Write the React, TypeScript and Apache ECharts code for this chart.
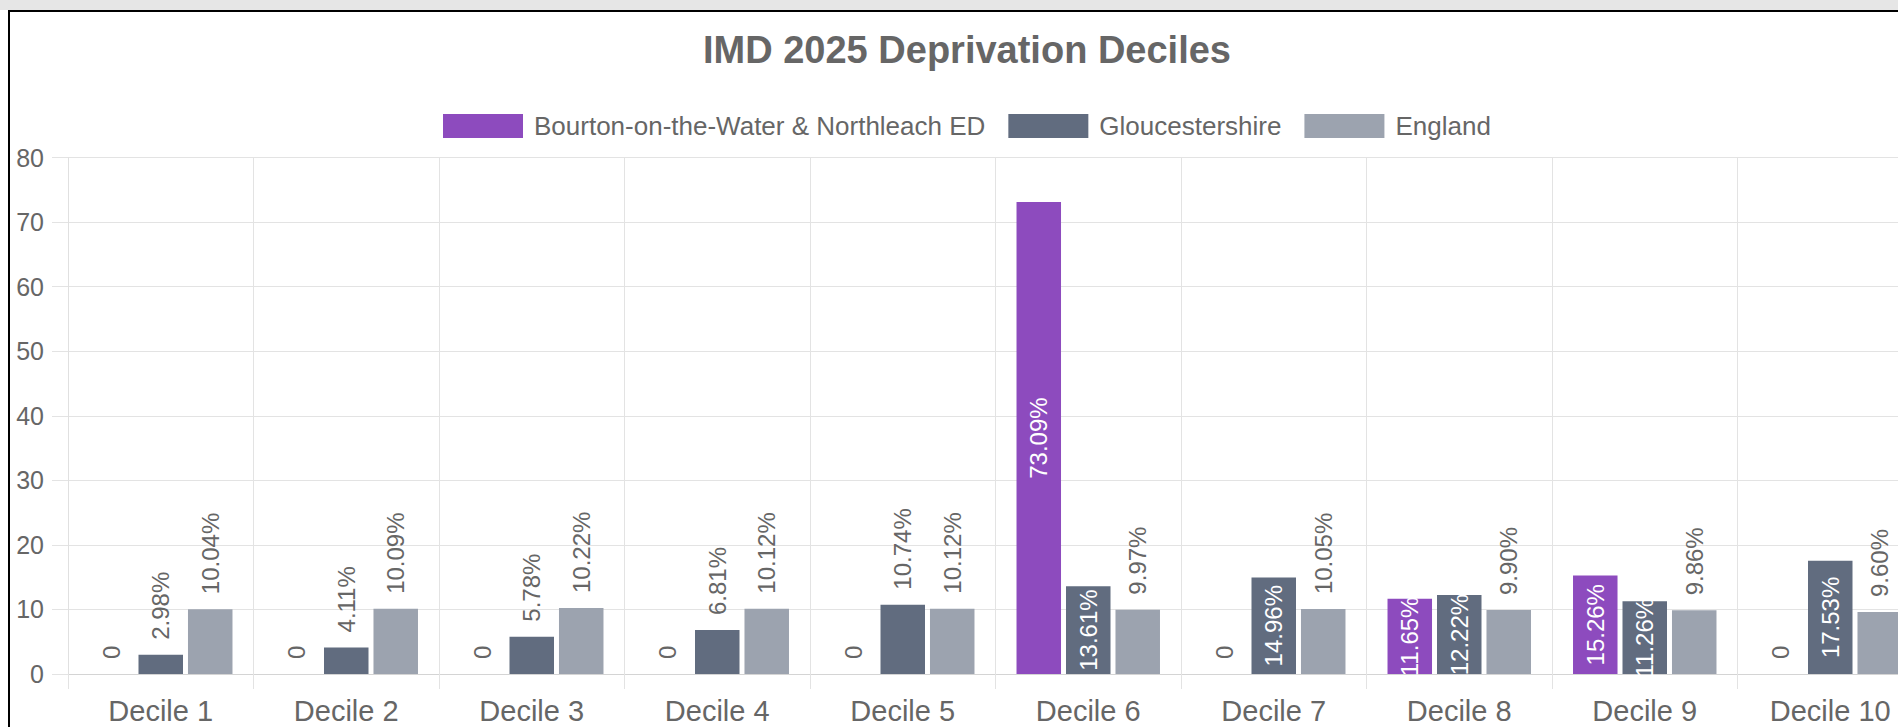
import React, { useEffect, useRef } from "react";
import * as echarts from "echarts";

const categories = [
  "Decile 1", "Decile 2", "Decile 3", "Decile 4", "Decile 5",
  "Decile 6", "Decile 7", "Decile 8", "Decile 9", "Decile 10",
];
const seriesNames = ["Bourton-on-the-Water & Northleach ED", "Gloucestershire", "England"];
const bourton = [0, 0, 0, 0, 0, 73.09, 0, 11.65, 15.26, 0];
const gloucestershire = [2.98, 4.11, 5.78, 6.81, 10.74, 13.61, 14.96, 12.22, 11.26, 17.53];
const england = [10.04, 10.09, 10.22, 10.12, 10.12, 9.97, 10.05, 9.9, 9.86, 9.6];
const yTicks = { min: 0, max: 80, interval: 10 };

const colors = ["#8D4BBE", "#616C7F", "#9CA3AF"];
const FONT = "'Liberation Sans', Arial, sans-serif";
const TXT = "#666666";

function toItems(vals: number[]) {
  return vals.map((v) => {
    const inside = v >= 11;
    return {
      value: v,
      label: inside
        ? { position: "inside", rotate: 90, align: "center", verticalAlign: "middle", color: "#ffffff" }
        : { position: "top", distance: 15, rotate: 90, align: "left", verticalAlign: "middle", color: TXT },
    };
  });
}

export default function App() {
  const ref = useRef<HTMLDivElement>(null);

  useEffect(() => {
    if (!ref.current) return;
    const chart = echarts.init(ref.current, undefined, { renderer: "svg" });
    const values = [bourton, gloucestershire, england];
    chart.setOption({
      animation: false,
      title: {
        text: "IMD 2025 Deprivation Deciles",
        left: 703,
        top: 31,
        padding: 0,
        textStyle: { fontFamily: FONT, fontSize: 38, fontWeight: "bold", color: TXT },
      },
      legend: {
        left: 443,
        top: 113,
        padding: 0,
        icon: "rect",
        itemWidth: 80,
        itemHeight: 24,
        itemGap: 23,
        textStyle: { fontFamily: FONT, fontSize: 26, color: TXT, padding: [0, 0, 0, 6] },
        data: seriesNames,
      },
      grid: {
        left: 68,
        right: -25,
        top: 157.5,
        bottom: 53,
        containLabel: false,
        outerBoundsMode: "none",
      },
      xAxis: {
        type: "category",
        data: categories,
        axisLine: { show: true, lineStyle: { color: "#d4d4d4", width: 1 } },
        axisTick: { show: true, length: 15, interval: 0, lineStyle: { color: "#e3e3e3" } },
        splitLine: { show: true, interval: 0, lineStyle: { color: "#e3e3e3" } },
        axisLabel: { interval: 0, margin: 22, fontFamily: FONT, fontSize: 29, color: TXT },
      },
      yAxis: {
        type: "value",
        min: yTicks.min,
        max: yTicks.max,
        interval: yTicks.interval,
        axisLine: { show: true, lineStyle: { color: "#e0e0e0" } },
        axisTick: { show: true, length: 16, lineStyle: { color: "#e3e3e3" } },
        splitLine: { show: true, lineStyle: { color: "#e3e3e3" } },
        axisLabel: { margin: 24, fontFamily: FONT, fontSize: 25, color: TXT },
      },
      series: seriesNames.map((name, i) => ({
        name,
        type: "bar",
        barWidth: 44.5,
        barGap: "11.2%",
        itemStyle: { color: colors[i] },
        label: {
          show: true,
          fontFamily: FONT,
          fontSize: 24,
          formatter: (p: any) => (p.value === 0 ? "0" : Number(p.value).toFixed(2) + "%"),
        },
        data: toItems(values[i]),
      })),
    });
    return () => chart.dispose();
  }, []);

  return (
    <div style={{ position: "fixed", left: 0, top: 0, width: 1898, height: 727, overflow: "hidden", background: "#ffffff" }}>
      <div ref={ref} style={{ position: "absolute", left: 0, top: 0, width: 1898, height: 727 }} />
      <div style={{ position: "absolute", left: 0, top: 0, width: 1898, height: 10, background: "#e6e6e6" }} />
      <div
        style={{
          position: "absolute",
          left: 8,
          top: 10,
          width: 1890,
          height: 717,
          borderLeft: "2px solid #000",
          borderTop: "2px solid #000",
          boxSizing: "border-box",
          pointerEvents: "none",
        }}
      />
    </div>
  );
}
